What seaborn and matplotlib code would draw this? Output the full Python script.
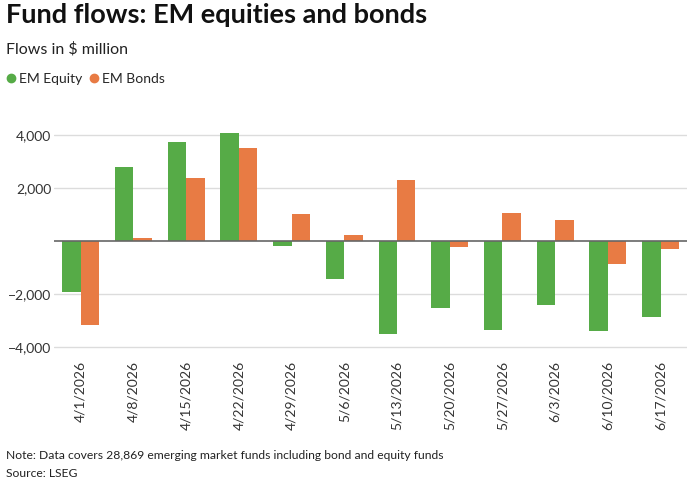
import pandas as pd
import matplotlib.pyplot as plt
import seaborn as sns
from matplotlib.lines import Line2D
from matplotlib.ticker import FuncFormatter

dates = ["4/1/2026", "4/8/2026", "4/15/2026", "4/22/2026", "4/29/2026", "5/6/2026",
         "5/13/2026", "5/20/2026", "5/27/2026", "6/3/2026", "6/10/2026", "6/17/2026"]
em_equity = [-1940, 2780, 3720, 4075, -190, -1420, -3500, -2515, -3360, -2400, -3385, -2880]
em_bonds = [-3170, 100, 2380, 3500, 1005, 240, 2300, -225, 1070, 780, -855, -300]
series = ["EM Equity", "EM Bonds"]
colors = {"EM Equity": "#56ab47", "EM Bonds": "#e87b44"}

df = pd.DataFrame({"date": dates * 2,
                   "series": [series[0]] * len(dates) + [series[1]] * len(dates),
                   "flow": em_equity + em_bonds})

sns.set_style("white")
plt.rcParams['font.family'] = ['Lato', 'DejaVu Sans']

fig = plt.figure(figsize=(6.96, 4.83), dpi=100)
ax = fig.add_axes([0.078, 0.276, 0.909, 0.472])

sns.barplot(data=df, x="date", y="flow", hue="series", palette=colors,
            width=0.7, gap=0, saturation=1, linewidth=0, ax=ax, legend=False)

# grid and zero line
ax.set_ylim(-4100, 4500)
ax.set_yticks([-4000, -2000, 2000, 4000])
ax.yaxis.set_major_formatter(FuncFormatter(lambda v, p: f"{v:,.0f}".replace("-", "\u2212")))
for y in [-4000, -2000, 2000, 4000]:
    ax.axhline(y, color="#dcdcdc", lw=1, zorder=0)
ax.axhline(0, color="#666666", lw=1.2, zorder=3)

for s in ax.spines.values():
    s.set_visible(False)
ax.tick_params(axis="both", length=0, labelsize=10, colors="#333333")
ax.tick_params(axis="x", rotation=90, pad=8)
ax.tick_params(axis="y", pad=2)
ax.set_xlabel("")
ax.set_ylabel("")
ax.set_xlim(-0.5, len(dates) - 0.5)

# titles and notes
fig.text(0.008, 0.968, "Fund flows: EM equities and bonds", fontsize=19.5, fontweight="bold",
         ha="left", va="center", color="#111111")
fig.text(0.008, 0.898, r"Flows in \$ million", fontsize=11.5, ha="left", va="center",
         color="#222222")
handles = [Line2D([0], [0], marker="o", linestyle="", markersize=6,
                  markerfacecolor=colors[s], markeredgecolor=colors[s]) for s in series]
fig.legend(handles, series, loc="center left", bbox_to_anchor=(-0.002, 0.836), ncol=2,
           frameon=False, fontsize=10, handletextpad=0.1, columnspacing=0.3,
           borderaxespad=0, handlelength=1)
fig.text(0.008, 0.056, "Note: Data covers 28,869 emerging market funds including bond and equity funds",
         fontsize=8.7, ha="left", va="center", color="#222222")
fig.text(0.008, 0.019, "Source: LSEG", fontsize=8.7, ha="left", va="center", color="#222222")

fig.savefig("out.png", dpi=100)
